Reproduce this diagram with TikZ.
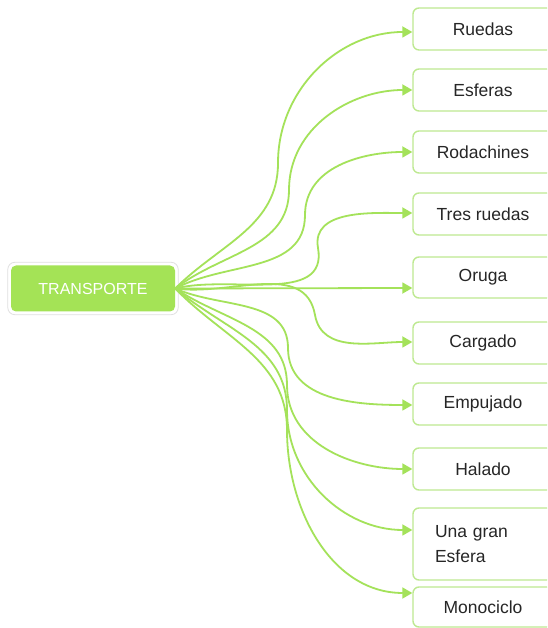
\documentclass[tikz,border=0pt]{standalone}
\usepackage{fontspec}
\setmainfont{Liberation Sans}
\usetikzlibrary{arrows.meta}
\definecolor{mgreen}{RGB}{164,227,86}
\definecolor{lgreen}{RGB}{164,226,90}
\definecolor{bgreen}{RGB}{190,233,145}
\begin{document}
\begin{tikzpicture}[x=1pt,y=1pt,
 leaf/.style={draw=bgreen, line width=1.4pt, rounded corners=6pt, fill=white,
   minimum width=140pt, minimum height=42pt, inner sep=0pt,
   font=\fontsize{17.5}{25}\selectfont, text=black!85},
 hub/.style={fill=mgreen, rounded corners=5pt, minimum width=164pt, minimum height=46pt,
   inner sep=0pt, text=white, font=\fontsize{16}{19}\selectfont},
 link/.style={draw=lgreen, line width=1.8pt, -{Triangle[length=10pt,width=11pt]}}]
\clip (0,0) rectangle (547,628);
\fill[white] (0,0) rectangle (547,628);
\node[hub] (T) at (93,339.5) {TRANSPORTE};
\draw[black!12, line width=0.8pt, rounded corners=7pt]
  ([shift={(-3,-3)}]T.south west) rectangle ([shift={(3,3)}]T.north east);
\node[leaf] (r1) at (483,599) {Ruedas};
\node[leaf] (r2) at (483,538) {Esferas};
\node[leaf] (r3) at (483,476) {Rodachines};
\node[leaf] (r4) at (483,414) {Tres ruedas};
\node[leaf, minimum height=41pt] (r5) at (483,350.5) {Oruga};
\node[leaf] (r6) at (483,285) {Cargado};
\node[leaf] (r7) at (483,224) {Empujado};
\node[leaf] (r8) at (483,159) {Halado};
\node[leaf, minimum height=72pt, text width=96pt, inner xsep=22pt, align=left] (r9) at (483,84) {Una gran\\Esfera};
\node[leaf, minimum height=40pt] (r10) at (483,21) {Monociclo};
\coordinate (m1) at (278,465);
\coordinate (m2) at (289,438);
\coordinate (m3) at (305,413);
\coordinate (m4) at (318,380);
\coordinate (m6) at (315,313);
\coordinate (m7) at (288,280);
\coordinate (m8) at (287,243);
\coordinate (m9) at (287,218);
\coordinate (m10) at (287,198);
\draw[link] (T.east) to[out=45,in=-90] (m1) to[out=90,in=180] ([yshift=-3pt]r1.west);
\draw[link] (T.east) to[out=38,in=-90] (m2) to[out=90,in=180] (r2.west);
\draw[link] (T.east) to[out=28,in=-90] (m3) to[out=90,in=180] (r3.west);
\draw[link] (T.east) to[out=14,in=-80] (m4) to[out=100,in=180] ([yshift=1pt]r4.west);
\draw[link] (T.east) -- ([yshift=-10.5pt]r5.west);
\draw[link] (T.east) to[out=-8,in=100] (m6) to[out=-80,in=180] ([yshift=1pt]r6.west);
\draw[link] (T.east) to[out=-24,in=90] (m7) to[out=-90,in=180] ([yshift=-1pt]r7.west);
\draw[link] (T.east) to[out=-34,in=90] (m8) to[out=-90,in=180] (r8.west);
\draw[link] (T.east) to[out=-40,in=90] (m9) to[out=-90,in=180] ([yshift=14pt]r9.west);
\draw[link] (T.east) to[out=-46,in=90] (m10) to[out=-90,in=180] ([yshift=14pt]r10.west);
\end{tikzpicture}
\end{document}
